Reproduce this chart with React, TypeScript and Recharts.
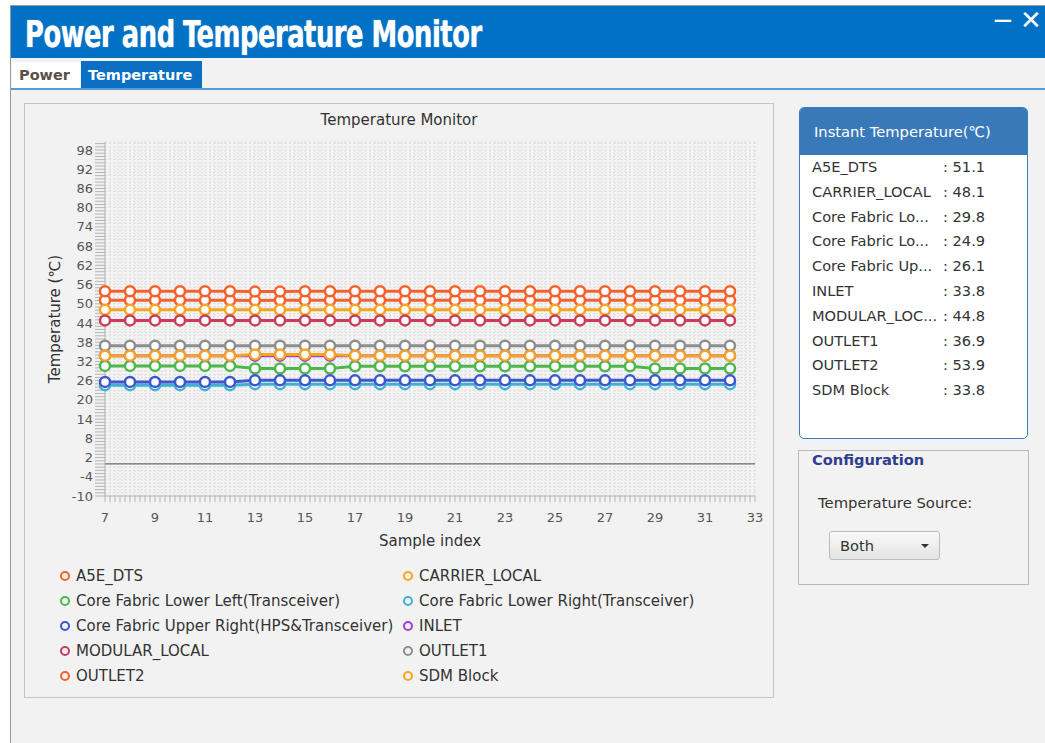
import React from "react";
import { CartesianGrid, Line, LineChart, ReferenceLine, XAxis, YAxis } from "recharts";

const sampleIndex = [7, 8, 9, 10, 11, 12, 13, 14, 15, 16, 17, 18, 19, 20, 21, 22, 23, 24, 25, 26, 27, 28, 29, 30, 31, 32];

const a5eDts = [51.1, 51.1, 51.1, 51.1, 51.1, 51.1, 51.0, 51.1, 51.1, 51.1, 51.1, 51.1, 51.1, 51.1, 51.1, 51.1, 51.1, 51.1, 51.1, 51.1, 51.1, 51.1, 51.1, 51.1, 51.1, 51.1];
const carrierLocal = [48.1, 48.1, 48.1, 48.1, 48.1, 48.1, 48.1, 48.1, 48.1, 48.1, 48.1, 48.1, 48.1, 48.1, 48.1, 48.1, 48.1, 48.1, 48.1, 48.1, 48.1, 48.1, 48.1, 48.1, 48.1, 48.1];
const coreLowerLeft = [30.6, 30.6, 30.6, 30.6, 30.6, 30.6, 29.8, 29.8, 29.8, 29.8, 30.5, 30.5, 30.5, 30.5, 30.5, 30.5, 30.5, 30.5, 30.5, 30.5, 30.5, 30.5, 29.8, 29.8, 29.8, 29.8];
const coreLowerRight = [24.6, 24.6, 24.6, 24.6, 24.6, 24.6, 24.9, 24.9, 24.9, 24.9, 24.9, 24.9, 24.9, 24.9, 24.9, 24.9, 24.9, 24.9, 24.9, 24.9, 24.9, 24.9, 24.9, 24.9, 24.9, 24.9];
const coreUpperRight = [25.6, 25.6, 25.6, 25.6, 25.6, 25.6, 26.1, 26.1, 26.1, 26.1, 26.1, 26.1, 26.1, 26.1, 26.1, 26.1, 26.1, 26.1, 26.1, 26.1, 26.1, 26.1, 26.1, 26.1, 26.1, 26.1];
const inlet = [33.8, 33.8, 33.8, 33.8, 33.8, 33.8, 33.8, 33.8, 33.8, 33.8, 33.8, 33.8, 33.8, 33.8, 33.8, 33.8, 33.8, 33.8, 33.8, 33.8, 33.8, 33.8, 33.8, 33.8, 33.8, 33.8];
const modularLocal = [44.8, 44.8, 44.8, 44.8, 44.8, 44.8, 44.8, 44.8, 44.8, 44.8, 44.8, 44.8, 44.8, 44.8, 44.8, 44.8, 44.8, 44.8, 44.8, 44.8, 44.8, 44.8, 44.8, 44.8, 44.8, 44.8];
const outlet1 = [36.9, 36.9, 36.9, 36.9, 36.9, 36.9, 36.9, 36.9, 36.9, 36.9, 36.9, 36.9, 36.9, 36.9, 36.9, 36.9, 36.9, 36.9, 36.9, 36.9, 36.9, 36.9, 36.9, 36.9, 36.9, 36.9];
const outlet2 = [53.9, 53.9, 53.9, 53.9, 53.9, 53.9, 53.8, 53.8, 53.9, 53.9, 53.9, 53.9, 53.9, 53.9, 53.9, 53.9, 53.9, 53.9, 53.9, 53.9, 53.9, 53.9, 53.9, 53.9, 53.9, 53.9];
const sdmBlock = [33.8, 33.8, 33.8, 33.8, 33.8, 33.8, 34.2, 34.2, 34.2, 34.2, 33.8, 33.8, 33.8, 33.8, 33.8, 33.8, 33.8, 33.8, 33.8, 33.8, 33.8, 33.8, 33.8, 33.8, 33.8, 33.8];

const yTickLabels = [-10, -4, 2, 8, 14, 20, 26, 32, 38, 44, 50, 56, 62, 68, 74, 80, 86, 92, 98];
const xTickLabels = [7, 9, 11, 13, 15, 17, 19, 21, 23, 25, 27, 29, 31, 33];

// short names shown in the instant panel
const panelLabels = ["A5E_DTS", "CARRIER_LOCAL", "Core Fabric Lo...", "Core Fabric Lo...", "Core Fabric Up...", "INLET", "MODULAR_LOC...", "OUTLET1", "OUTLET2", "SDM Block"];

const series = [
  { key: "a5e", name: "A5E_DTS", color: "#f4622c", values: a5eDts },
  { key: "carrier", name: "CARRIER_LOCAL", color: "#f7a323", values: carrierLocal },
  { key: "cll", name: "Core Fabric Lower Left(Transceiver)", color: "#4cb84c", values: coreLowerLeft },
  { key: "clr", name: "Core Fabric Lower Right(Transceiver)", color: "#41aed4", values: coreLowerRight },
  { key: "cur", name: "Core Fabric Upper Right(HPS&Transceiver)", color: "#3d57cc", values: coreUpperRight },
  { key: "inlet", name: "INLET", color: "#a040d0", values: inlet },
  { key: "modular", name: "MODULAR_LOCAL", color: "#cc3b5e", values: modularLocal },
  { key: "outlet1", name: "OUTLET1", color: "#8e8e8e", values: outlet1 },
  { key: "outlet2", name: "OUTLET2", color: "#f4622c", values: outlet2 },
  { key: "sdm", name: "SDM Block", color: "#f7a323", values: sdmBlock }
];

const chartData = sampleIndex.map((x, i) => {
  const row: Record<string, number> = { x };
  series.forEach((s) => (row[s.key] = s.values[i]));
  return row;
});

// minor ticks: every 1 on y, every 0.2 on x
const yMinor = Array.from({ length: 111 }, (_, i) => -10 + i);
const xMinor = Array.from({ length: 131 }, (_, i) => Math.round((7 + i * 0.2) * 10) / 10);

const font = "'DejaVu Sans', 'Noto Sans', sans-serif";

function YTick(props: any) {
  const v = props.payload.value;
  if (!yTickLabels.some((t) => Math.abs(t - v) < 1e-6)) return <g />;
  return (
    <text x={props.x} y={props.y} textAnchor="end" dy="0.35em" fontSize={13} fill="#555" fontFamily={font}>
      {v}
    </text>
  );
}

function XTick(props: any) {
  const v = props.payload.value;
  if (!xTickLabels.some((t) => Math.abs(t - v) < 1e-6)) return <g />;
  return (
    <text x={props.x} y={props.y} textAnchor="middle" dy="0.71em" fontSize={13} fill="#555" fontFamily={font}>
      {v}
    </text>
  );
}

const abs = (left: number, top: number, extra: React.CSSProperties = {}): React.CSSProperties => ({
  position: "absolute",
  left,
  top,
  ...extra
});

export default function App() {
  return (
    <div style={{ position: "absolute", left: 0, top: 0, width: 1045, height: 743, background: "#fff", overflow: "hidden", fontFamily: font, color: "#333" }}>
      {/* window */}
      <div style={abs(10, 5, { width: 1035, height: 738, background: "#f2f2f2", borderLeft: "1px solid #9a9a9a", borderTop: "1px solid #9a9a9a" })} />
      <div style={abs(11, 6, { width: 1034, height: 52, background: "#0071c5" })} />
      <div
        style={abs(25, 11, {
          color: "#fff",
          fontFamily: "'Liberation Sans Narrow', 'DejaVu Sans Condensed', sans-serif",
          fontWeight: 700,
          fontSize: 34,
          letterSpacing: -0.6,
          transform: "scale(0.845, 1.12)",
          transformOrigin: "left top",
          whiteSpace: "nowrap",
          textShadow: "0 0 1px #cfe3f5"
        })}
      >
        Power and Temperature Monitor
      </div>
      <div style={abs(992, 5, { color: "#fff", fontSize: 26 })}>−</div>
      <div style={abs(1020, 5, { color: "#fff", fontSize: 26, fontWeight: 300 })}>✕</div>

      {/* tabs */}
      <div style={abs(12, 62, { width: 68, height: 26, background: "#fff", fontWeight: 700, fontSize: 14.5, color: "#5a5048", lineHeight: "26px", paddingLeft: 7, boxSizing: "border-box" })}>Power</div>
      <div style={abs(81, 61, { width: 121, height: 27, background: "#0b6fc3", fontWeight: 700, fontSize: 14.5, color: "#fff", lineHeight: "28px", paddingLeft: 7, boxSizing: "border-box" })}>Temperature</div>
      <div style={abs(11, 88, { width: 1034, height: 2, background: "#5a9ad6" })} />

      {/* chart panel */}
      <div style={abs(24, 103, { width: 748, height: 593, border: "1px solid #c4c4c4" })} />
      <div style={abs(24, 111, { width: 750, textAlign: "center", fontSize: 15, color: "#333" })}>Temperature Monitor</div>

      <div style={abs(40, 130)}>
        <LineChart width={730} height={425} data={chartData} margin={{ top: 12, right: 15, left: 0, bottom: 4 }}>
          <CartesianGrid stroke="#dcdcdc" strokeDasharray="2 2" fill="#f4f4f4" />
          <XAxis
            dataKey="x"
            type="number"
            domain={[7, 33]}
            ticks={xMinor}
            interval={0}
            tick={XTick}
            tickSize={6}
            tickMargin={11}
            height={55}
            stroke="#b4b4b4"
            label={{ value: "Sample index", position: "insideBottom", offset: 5, style: { fill: "#333", fontSize: 15, fontFamily: font } }}
          />
          <YAxis
            type="number"
            domain={[-10, 100.5]}
            ticks={yMinor}
            interval={0}
            tick={YTick}
            tickSize={10}
            tickMargin={2}
            width={65}
            stroke="#b4b4b4"
            label={{ value: "Temperature (℃)", angle: -90, position: "insideLeft", offset: 15, style: { textAnchor: "middle", fill: "#333", fontSize: 15, fontFamily: font } }}
          />
          <ReferenceLine y={0} stroke="#6a6a6a" strokeWidth={1.2} />
          {series.map((s) => (
            <Line
              key={s.key}
              dataKey={s.key}
              name={s.name}
              type="linear"
              stroke={s.color}
              strokeWidth={3}
              dot={{ r: 5, fill: "#fff", stroke: s.color, strokeWidth: 2.5 }}
              activeDot={false}
              isAnimationActive={false}
            />
          ))}
        </LineChart>
      </div>

      {/* legend */}
      {series.map((s, i) => {
        const col = i % 2;
        const row = Math.floor(i / 2);
        const left = col === 0 ? 60 : 403;
        const top = 576 + row * 25;
        return (
          <div key={s.key} style={abs(left, top - 9, { height: 18, display: "flex", alignItems: "center", whiteSpace: "nowrap", fontSize: 15, color: "#333" })}>
            <span style={{ width: 10, height: 10, borderRadius: "50%", border: `2.5px solid ${s.color}`, boxSizing: "border-box", marginRight: 6, flexShrink: 0 }} />
            {s.name}
          </div>
        );
      })}

      {/* instant temperature panel */}
      <div style={abs(799, 107, { width: 227, height: 330, border: "1px solid #3a7ec2", borderRadius: 5, background: "#fff", overflow: "hidden" })}>
        <div style={{ height: 47, background: "#3a79b9", color: "#fff", fontSize: 14.7, lineHeight: "47px", paddingLeft: 14 }}>Instant Temperature(℃)</div>
      </div>
      {series.map((s, i) => {
        const top = 167 + i * 24.8;
        return (
          <React.Fragment key={s.key}>
            <div style={abs(812, top - 9, { fontSize: 14.6, color: "#333", whiteSpace: "nowrap", lineHeight: "18px" })}>{panelLabels[i]}</div>
            <div style={abs(943, top - 9, { fontSize: 14.6, color: "#333", whiteSpace: "nowrap", lineHeight: "18px" })}>: {s.values[s.values.length - 1].toFixed(1)}</div>
          </React.Fragment>
        );
      })}

      {/* configuration */}
      <div style={abs(798, 450, { width: 229, height: 133, border: "1px solid #b9b9b9" })} />
      <div style={abs(812, 451, { fontSize: 14.6, fontWeight: 700, color: "#2d3e8e", lineHeight: "18px" })}>Configuration</div>
      <div style={abs(818, 494, { fontSize: 14.8, color: "#333", lineHeight: "18px" })}>Temperature Source:</div>
      <div
        style={abs(829, 531, {
          width: 111,
          height: 29,
          boxSizing: "border-box",
          border: "1px solid #bcbcbc",
          borderRadius: 3,
          background: "linear-gradient(#f9f9f9, #e3e3e3)",
          fontSize: 14.6,
          lineHeight: "27px",
          paddingLeft: 10,
          color: "#333"
        })}
      >
        Both
        <span style={{ position: "absolute", left: 91, top: 12, width: 0, height: 0, borderLeft: "4px solid transparent", borderRight: "4px solid transparent", borderTop: "4px solid #333" }} />
      </div>
    </div>
  );
}
